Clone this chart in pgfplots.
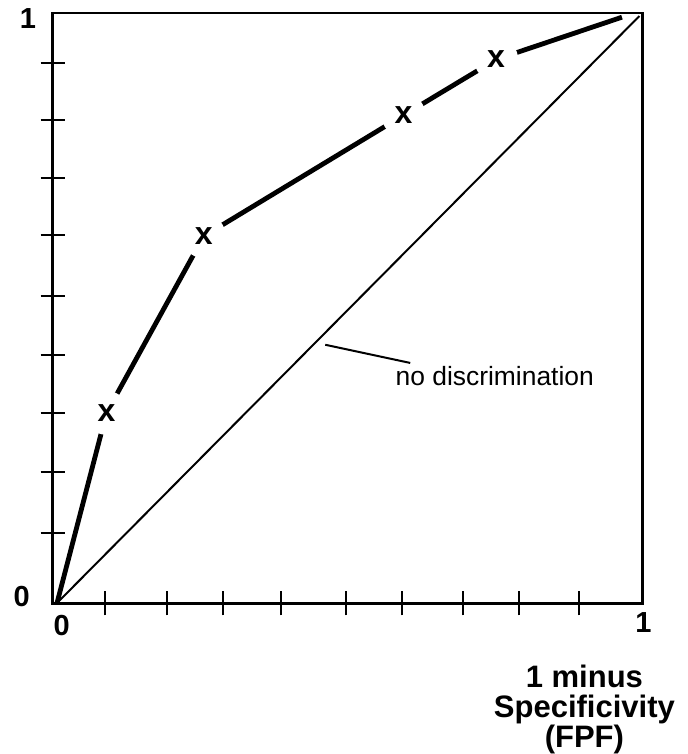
\documentclass[border=0pt]{standalone}
\usepackage{pgfplots}
\pgfplotsset{compat=1.18}
\usepackage{fontspec}
\setmainfont{Liberation Sans}
\begin{document}
\begin{tikzpicture}
\begin{axis}[
  name=ax,
  scale only axis,
  width=294.7pt, height=295pt,
  xmin=-0.0074, xmax=1.005,
  ymin=-0.0005, ymax=1.005,
  axis line style={line width=1.4pt},
  tick style={black, line width=1pt},
  tick align=center,
  major tick length=12pt,
  xtick={0.0832,0.1887,0.2852,0.3854,0.4962,0.5928,0.6976,0.7940,0.8959},
  ytick={0.119,0.223,0.324,0.422,0.523,0.627,0.724,0.823,0.920},
  xticklabels={}, yticklabels={},
  xtick pos=bottom, ytick pos=left,
  clip=false,
]
\addplot[black, line width=1pt] coordinates {(0,0) (1,1)};
\addplot[black, line width=2.4pt, mark=text, text mark={x}, text mark as node=true,
  text mark style={circle, fill=white, inner sep=0pt, minimum size=22pt,
    font=\fontsize{16}{16}\selectfont\bfseries},
  mark indices={2,3,4,5}]
  coordinates {(0,0) (0.085,0.324) (0.252,0.625) (0.595,0.831) (0.754,0.926) (0.970,0.998)};
\draw[black, line width=1pt] (axis cs:0.4605,0.440) -- (axis cs:0.6065,0.409);
\node[anchor=base west, inner sep=0pt, font=\fontsize{13.2}{15}\selectfont] at (axis cs:0.5808,0.3714) {no discrimination};
\node[inner sep=0pt, font=\fontsize{14.5}{15}\selectfont\bfseries] at (axis cs:-0.0607,0.0107) {0};
\node[inner sep=0pt, font=\fontsize{14.5}{15}\selectfont\bfseries] at (axis cs:-0.0498,0.9966) {1};
\node[inner sep=0pt, font=\fontsize{14.5}{15}\selectfont\bfseries] at (axis cs:0.008,-0.0375) {0};
\node[inner sep=0pt, font=\fontsize{14.5}{15}\selectfont\bfseries] at (axis cs:1.0069,-0.034) {1};
\node[anchor=north, inner sep=0pt, align=center, font=\fontsize{15.5}{15}\selectfont\bfseries] at (axis cs:0.9055,-0.1056) {1 minus\\Specificivity\\(FPF)};
\coordinate (bbsw) at (axis cs:-0.0979,-0.2572);
\coordinate (bbne) at (axis cs:1.0825,1.0273);
\end{axis}
\pgfresetboundingbox
\path[use as bounding box] (bbsw) rectangle (bbne);
\end{tikzpicture}
\end{document}
